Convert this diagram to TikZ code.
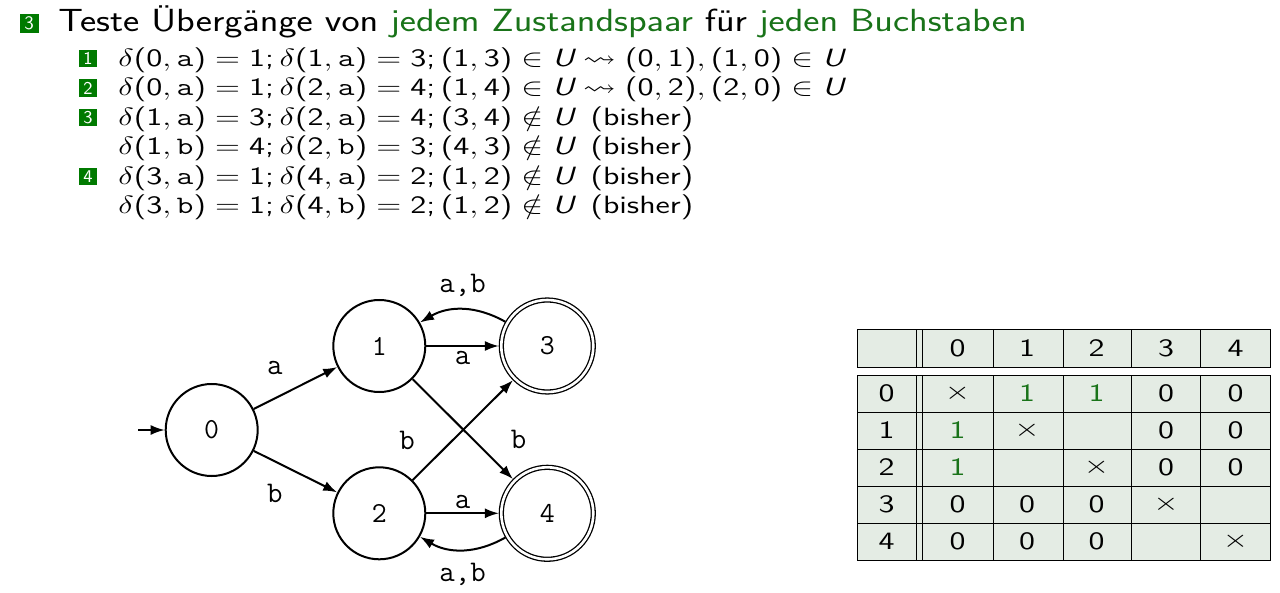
\RequirePackage{fix-cm}
\documentclass[tikz,border=0pt]{standalone}
\usepackage{amsmath}
\usepackage{amssymb}
\usepackage{graphicx}
\usepackage{tikz}
\usetikzlibrary{arrows.meta}
\DeclareSymbolFont{operators}{TU}{lmss}{m}{n}
\DeclareMathAlphabet{\mathsfit}{TU}{lmss}{m}{sl}
\definecolor{boxgreen}{RGB}{0,122,0}
\definecolor{textgreen}{RGB}{25,115,25}
\definecolor{tabfill}{RGB}{228,236,228}
\newcommand{\hl}[1]{\textcolor{textgreen}{#1}}
\newcommand{\syma}{\text{\ttfamily a}}
\newcommand{\symb}{\text{\ttfamily b}}
\newcommand{\kx}{$\times$}
\newcommand{\eins}{\textcolor{textgreen}{1}}
\newcommand{\wide}[2][1.3]{\scalebox{#1}[1]{#2}}

\begin{document}
\begin{tikzpicture}[x=0.5pt,y=0.5pt,yscale=-1,xscale=1,
  numbox/.style={fill=boxgreen,text=white,inner sep=0pt,minimum width=8.7pt,minimum height=8.7pt,font=\sffamily\fontsize{9}{9}\selectfont},
  item/.style={anchor=base west,inner sep=0pt,font=\sffamily\fontsize{12.5}{15}\selectfont},
  state/.style={circle,draw,line width=1pt,minimum size=46pt,inner sep=0pt,font=\ttfamily\fontsize{14.5}{14.5}\selectfont},
  accepting/.style={double=white,double distance=1.3pt,line width=0.65pt,outer sep=1.2pt},
  trans/.style={line width=1pt,-{Latex[length=7pt,width=5pt]}},
  lab/.style={font=\ttfamily\fontsize{15}{15}\selectfont,inner sep=2pt},
  cell/.style={font=\sffamily\fontsize{12.5}{12.5}\selectfont,inner sep=0pt}]
%set diagram left start at 0, and has height of 593
\path (0,0) rectangle (1280,593);

% Text Node
\node[numbox,minimum width=9.5pt,minimum height=9.5pt,font=\sffamily\fontsize{9.5}{9.5}\selectfont] (n3) at (29,23.5) {3};
% Text Node
\node[anchor=base west,inner sep=0pt,font=\sffamily\fontsize{16}{19}\selectfont] (title) at (58,32) {\wide[1.205]{Teste Übergänge von \hl{jedem Zustandspaar} für \hl{jeden Buchstaben}}};

% Text Node
\node[numbox] (b1) at (88,58.5) {1};
\node[item] (l1) at (118,66.5) {\wide[1.31]{$\delta(0,\syma)=1;\delta(1,\syma)=3;(1,3)\in\mathsfit{U}\leadsto(0,1),(1,0)\in\mathsfit{U}$}};
% Text Node
\node[numbox] (b2) at (88,88) {2};
\node[item] (l2) at (118,96) {\wide[1.31]{$\delta(0,\syma)=1;\delta(2,\syma)=4;(1,4)\in\mathsfit{U}\leadsto(0,2),(2,0)\in\mathsfit{U}$}};
% Text Node
\node[numbox] (b3) at (88,117.5) {3};
\node[item] (l3) at (118,125.5) {\wide[1.31]{$\delta(1,\syma)=3;\delta(2,\syma)=4;(3,4)\notin\mathsfit{U}$\enspace(bisher)}};
\node[item] (l4) at (118,155) {\wide[1.31]{$\delta(1,\symb)=4;\delta(2,\symb)=3;(4,3)\notin\mathsfit{U}$\enspace(bisher)}};
% Text Node
\node[numbox] (b4) at (88,176.5) {4};
\node[item] (l5) at (118,184.5) {\wide[1.31]{$\delta(3,\syma)=1;\delta(4,\syma)=2;(1,2)\notin\mathsfit{U}$\enspace(bisher)}};
\node[item] (l6) at (118,214) {\wide[1.31]{$\delta(3,\symb)=1;\delta(4,\symb)=2;(1,2)\notin\mathsfit{U}$\enspace(bisher)}};

%Shape: Circle
\node[state] (q0) at (211.7,430) {0};
\node[state] (q1) at (379.3,346) {1};
\node[state] (q2) at (379.3,513.3) {2};
\node[state,accepting] (q3) at (547.3,346) {3};
\node[state,accepting] (q4) at (547.3,513.3) {4};
\coordinate (start) at (138,430);

%Straight Lines
\draw[trans] (start) -- (q0);
\draw[trans] (q0) -- node[lab,pos=0.5,inner sep=6pt,anchor=south east] {a} (q1);
\draw[trans] (q0) -- node[lab,pos=0.5,inner sep=6pt,anchor=north east] {b} (q2);
\draw[trans] (q1) -- node[lab,below] {a} (q3);
\draw[trans] (q2) -- node[lab,above] {a} (q4);
\draw[trans] (q1) -- node[lab,pos=0.75,anchor=south west,xshift=9pt] {b} (q4);
\draw[trans] (q2) -- node[lab,pos=0.25,anchor=south east,xshift=-9pt] {b} (q3);
%Curves
\draw[trans] (q3) to[bend left=30] node[lab,above=4pt] {a,b} (q1);
\draw[trans] (q4) to[bend right=30] node[lab,below=4pt] {a,b} (q2);

%Shape: Table
\fill[tabfill] (857,330) rectangle (1270,367);
\fill[tabfill] (857,375) rectangle (1270,560);
\draw[line width=0.5pt] (857,330) rectangle (1270,367);
\draw[line width=0.5pt] (857,375) rectangle (1270,560);
\foreach \x in {916,922,993,1063,1131,1200} {
  \draw[line width=0.5pt] (\x,330) -- (\x,367);
  \draw[line width=0.5pt] (\x,375) -- (\x,560);
}
\foreach \y in {412,449,486,523}
  \draw[line width=0.5pt] (857,\y) -- (1270,\y);

% Text Node
\foreach \c [count=\j from 0] in {0,1,2,3,4} {
  \node[cell] (h\c) at ({957.5+69.5*\j},348) {\wide{\c}};
  \node[cell] (r\c) at (886.5,{393+37.1*\j}) {\wide{\c}};
}
\foreach \row [count=\i from 0] in {{\kx,\eins,\eins,0,0},{\eins,\kx,,0,0},{\eins,,\kx,0,0},{0,0,0,\kx,},{0,0,0,,\kx}}
  \foreach \e [count=\j from 0] in \row
    \node[cell] (c\i\j) at ({957.5+69.5*\j},{393+37.1*\i}) {\wide{\e}};
\end{tikzpicture}
\end{document}
